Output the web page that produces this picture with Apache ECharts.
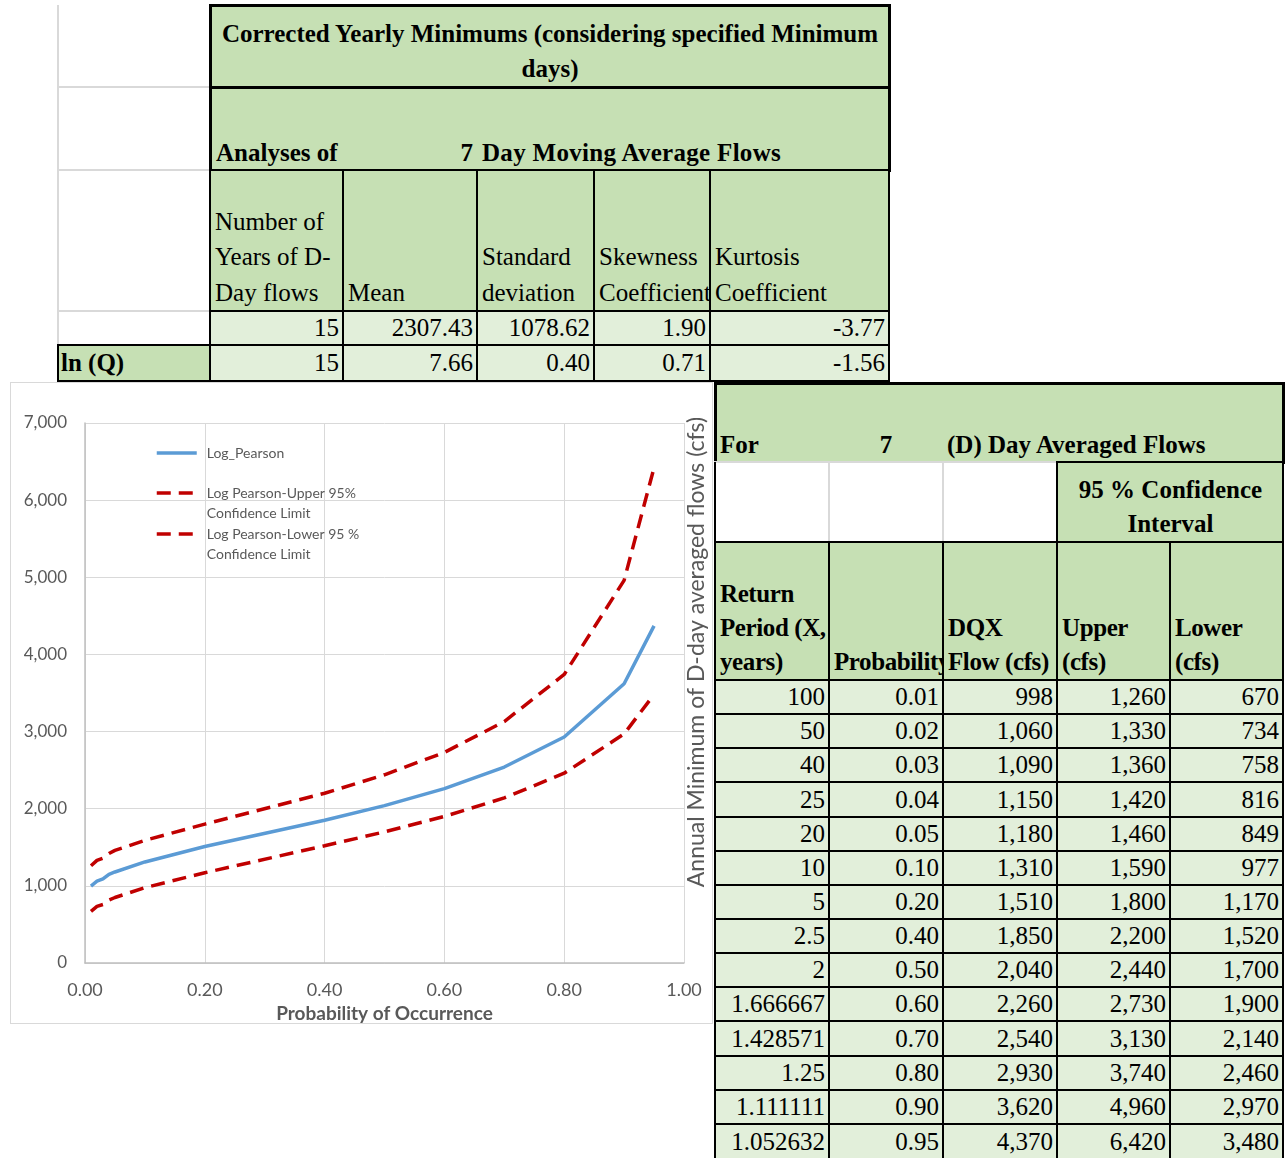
<!DOCTYPE html>
<html>
<head>
<meta charset="utf-8">
<title>7 Day Moving Average Flows – Log Pearson</title>
<script src="https://cdn.jsdelivr.net/npm/echarts/dist/echarts.min.js"></script>
<style>
  html, body {
    margin: 0; padding: 0; background: #fff;
    width: 1286px; height: 1158px; overflow: hidden; position: relative;
    font-family: 'Liberation Serif', 'Times New Roman', serif; color: #000;
  }
  .cell {
    position: absolute; box-sizing: border-box; display: flex;
    font-size: 25px; white-space: nowrap; overflow: visible;
  }
  .txt {
    position: absolute; font-size: 25px; white-space: nowrap; line-height: 34px;
  }
  .line { position: absolute; background: #d9d9d9; }
  #chartBox {
    position: absolute; left: 10px; top: 382px; width: 701px; height: 640px;
    border: 1px solid #d9d9d9; background: #fff;
  }
  #chart { width: 701px; height: 640px; }
</style>
</head>
<body>
<div id="chartBox"><div id="chart"></div></div>
<script>
// ---- Summary statistics of the 7-day moving average flows ----
const statHeaders = ['Number of<br>Years of D-<br>Day flows', 'Mean', 'Standard<br>deviation', 'Skewness<br>Coefficient', 'Kurtosis<br>Coefficient'];
const flowStats   = ['15', '2307.43', '1078.62', '1.90', '-3.77'];
const lnFlowStats = ['15', '7.66', '0.40', '0.71', '-1.56'];

// ---- Frequency analysis table ----
const freqHeaders   = ['Return<br>Period (X,<br>years)', 'Probability', 'DQX<br>Flow (cfs)', 'Upper<br>(cfs)', 'Lower<br>(cfs)'];
const returnPeriods = ['100', '50', '40', '25', '20', '10', '5', '2.5', '2', '1.666667', '1.428571', '1.25', '1.111111', '1.052632'];
const probabilities = [0.01, 0.02, 0.03, 0.04, 0.05, 0.10, 0.20, 0.40, 0.50, 0.60, 0.70, 0.80, 0.90, 0.95];
const dqxFlow       = [998, 1060, 1090, 1150, 1180, 1310, 1510, 1850, 2040, 2260, 2540, 2930, 3620, 4370];
const upper95       = [1260, 1330, 1360, 1420, 1460, 1590, 1800, 2200, 2440, 2730, 3130, 3740, 4960, 6420];
const lower95       = [670, 734, 758, 816, 849, 977, 1170, 1520, 1700, 1900, 2140, 2460, 2970, 3480];

// ---- Chart axis ticks ----
const xTicks = [0, 0.2, 0.4, 0.6, 0.8, 1.0];
const yTicks = [0, 1000, 2000, 3000, 4000, 5000, 6000, 7000];

const GREEN = '#C6E0B4';
const LIGHT = '#E2EFDA';
const GRID  = '#d9d9d9';
const AXIS  = '#bfbfbf';
const INK   = '#595959';

function cell(x0, y0, x1, y1, o) {
  o = o || {};
  const bw = o.bw || 2;
  const d = document.createElement('div');
  d.className = 'cell';
  d.style.left = (x0 - bw / 2) + 'px';
  d.style.top = (y0 - bw / 2) + 'px';
  d.style.width = (x1 - x0 + bw) + 'px';
  d.style.height = (y1 - y0 + bw) + 'px';
  d.style.background = o.bg || 'transparent';
  d.style.border = bw + 'px solid ' + (o.bc || '#000');
  if (o.noBottom) d.style.borderBottom = 'none';
  d.style.justifyContent = o.ha === 'right' ? 'flex-end' : (o.ha === 'center' ? 'center' : 'flex-start');
  d.style.alignItems = o.va === 'middle' ? 'center' : 'flex-end';
  d.style.textAlign = o.ha || 'left';
  d.style.fontWeight = o.bold ? 'bold' : 'normal';
  d.style.lineHeight = (o.lh || 34) + 'px';
  d.style.padding = o.pad || '0 3px 0 4px';
  if (o.ls) d.style.letterSpacing = o.ls;
  d.innerHTML = o.html || '';
  document.body.appendChild(d);
  return d;
}

function text(x, bottom, str, o) {
  o = o || {};
  const d = document.createElement('div');
  d.className = 'txt';
  d.style.top = (bottom - 34) + 'px';
  if (o.align === 'right') { d.style.right = (1286 - x) + 'px'; }
  else if (o.align === 'center') { d.style.left = (x - 100) + 'px'; d.style.width = '200px'; d.style.textAlign = 'center'; }
  else { d.style.left = x + 'px'; }
  d.style.fontWeight = o.bold ? 'bold' : 'normal';
  if (o.ls) d.style.letterSpacing = o.ls;
  d.textContent = str;
  document.body.appendChild(d);
  return d;
}

function line(x, y, w, h, color) {
  const d = document.createElement('div');
  d.className = 'line';
  d.style.left = x + 'px'; d.style.top = y + 'px';
  d.style.width = w + 'px'; d.style.height = h + 'px';
  if (color) d.style.background = color;
  document.body.appendChild(d);
  return d;
}

// ---------- statistics table ----------
const sCols = [210, 343, 477, 594, 710, 889];
line(57, 5, 2, 341);
line(58, 86, 152, 2);
line(58, 169, 152, 2);
line(58, 310, 152, 2);

cell(210, 5, 889, 87, { bg: GREEN, bw: 3, bold: true, ha: 'center', lh: 35,
  html: 'Corrected Yearly Minimums (considering specified Minimum<br>days)' });
cell(210, 87, 889, 170, { bg: GREEN, bw: 3 });
text(216, 170, 'Analyses of', { bold: true });
text(473, 170, '7', { bold: true, align: 'right' });
text(482, 170, 'Day Moving Average Flows', { bold: true, ls: '0.3px' });

for (let i = 0; i < 5; i++) {
  cell(sCols[i], 170, sCols[i + 1], 311, { bg: GREEN, lh: 35.5, html: statHeaders[i] });
}
for (let i = 0; i < 5; i++) {
  cell(sCols[i], 311, sCols[i + 1], 345, { bg: LIGHT, ha: 'right', va: 'middle', html: flowStats[i] });
}
cell(58, 345, 210, 381, { bg: GREEN, bold: true, va: 'middle', html: 'ln (Q)', pad: '0 3px 0 2px' });
for (let i = 0; i < 5; i++) {
  cell(sCols[i], 345, sCols[i + 1], 381, { bg: LIGHT, ha: 'right', va: 'middle', html: lnFlowStats[i] });
}

// ---------- frequency table ----------
const fCols = [715, 829, 943, 1057, 1170, 1283];
cell(715, 383, 1283, 462, { bg: GREEN, bw: 3 });
text(720, 462, 'For', { bold: true });
text(886, 462, '7', { bold: true, align: 'center' });
text(947, 462, '(D) Day Averaged Flows', { bold: true });

for (let i = 0; i < 3; i++) cell(fCols[i], 462, fCols[i + 1], 542, { bg: '#fff', bc: GRID });
line(714, 462, 2, 80, '#000');
cell(1057, 462, 1283, 542, { bg: GREEN, bold: true, ha: 'center',
  html: '95 % Confidence<br>Interval' });

for (let i = 0; i < 5; i++) {
  cell(fCols[i], 542, fCols[i + 1], 680, { bg: GREEN, bold: true, ls: '-0.4px', html: freqHeaders[i] });
}
const fmt = v => v.toLocaleString('en-US');
const rowH = (1158 - 680) / 14;
for (let r = 0; r < returnPeriods.length; r++) {
  const y0 = 680 + r * rowH, y1 = y0 + rowH;
  const last = r === returnPeriods.length - 1;
  const vals = [returnPeriods[r], probabilities[r].toFixed(2), fmt(dqxFlow[r]), fmt(upper95[r]), fmt(lower95[r])];
  for (let i = 0; i < 5; i++) {
    cell(fCols[i], y0, fCols[i + 1], last ? y1 + 4 : y1,
      { bg: LIGHT, ha: 'right', va: 'middle', html: vals[i], noBottom: last, pad: last ? '0 3px 4px 4px' : undefined });
  }
}

// ---------- chart ----------
const chart = echarts.init(document.getElementById('chart'), null, { renderer: 'canvas' });
const upperName = 'Log Pearson-Upper 95%\nConfidence Limit';
const lowerName = 'Log Pearson-Lower 95 %\nConfidence Limit';
const legendBase = {
  orient: 'vertical', left: 144, padding: 0, itemWidth: 40, itemHeight: 14,
  selectedMode: false, itemStyle: { opacity: 0 }, lineStyle: { width: 3.5 },
  textStyle: { color: INK, fontSize: 14, fontFamily: 'Lato', lineHeight: 20, padding: [0, 0, 0, 5] }
};
// two-line entries get a blank first line so the sample line sits beside the first text line
const twoLine = name => ' \n' + name;

chart.setOption({
  animation: false,
  textStyle: { fontFamily: 'Lato' },
  grid: { left: 74, top: 40, width: 599, height: 540, containLabel: false, outerBoundsMode: 'none' },
  xAxis: {
    type: 'value', min: xTicks[0], max: xTicks[xTicks.length - 1], interval: 0.2,
    axisLine: { show: true, lineStyle: { color: AXIS, width: 1.5 } },
    axisTick: { show: false },
    splitLine: { show: true, lineStyle: { color: GRID, width: 1 } },
    axisLabel: { formatter: v => v.toFixed(2), color: INK, fontSize: 18, fontFamily: 'Lato', margin: 18 },
    name: 'Probability of Occurrence', nameLocation: 'middle', nameGap: 31,
    nameTextStyle: { color: INK, fontSize: 19, fontWeight: 'bold', fontFamily: 'Lato' }
  },
  yAxis: {
    type: 'value', min: yTicks[0], max: yTicks[yTicks.length - 1], interval: 1000,
    axisLine: { show: true, lineStyle: { color: AXIS, width: 1.5 } },
    axisTick: { show: false },
    splitLine: { show: true, lineStyle: { color: GRID, width: 1 } },
    axisLabel: { formatter: v => fmt(v), color: INK, fontSize: 17, fontFamily: 'Lato', margin: 18 }
  },
  legend: [
    Object.assign({}, legendBase, { data: ['Log_Pearson'], top: 60 }),
    Object.assign({}, legendBase, { data: [upperName], top: 80, formatter: twoLine }),
    Object.assign({}, legendBase, { data: [lowerName], top: 121, formatter: twoLine })
  ],
  graphic: [{
    type: 'text', x: 686, y: 269, rotation: Math.PI / 2,
    style: {
      text: 'Annual Minimum of D-day averaged flows (cfs)',
      fill: INK, font: '23px Lato', textAlign: 'center', textVerticalAlign: 'middle'
    }
  }],
  series: [
    { name: 'Log_Pearson', type: 'line', symbol: 'none', z: 3,
      data: probabilities.map((p, i) => [p, dqxFlow[i]]),
      lineStyle: { color: '#5B9BD5', width: 3.5 }, itemStyle: { color: '#5B9BD5' } },
    { name: upperName, type: 'line', symbol: 'none',
      data: probabilities.map((p, i) => [p, upper95[i]]),
      lineStyle: { color: '#C00000', width: 3.5, type: [14, 8] }, itemStyle: { color: '#C00000' } },
    { name: lowerName, type: 'line', symbol: 'none',
      data: probabilities.map((p, i) => [p, lower95[i]]),
      lineStyle: { color: '#C00000', width: 3.5, type: [14, 8] }, itemStyle: { color: '#C00000' } }
  ]
});
</script>
</body>
</html>
